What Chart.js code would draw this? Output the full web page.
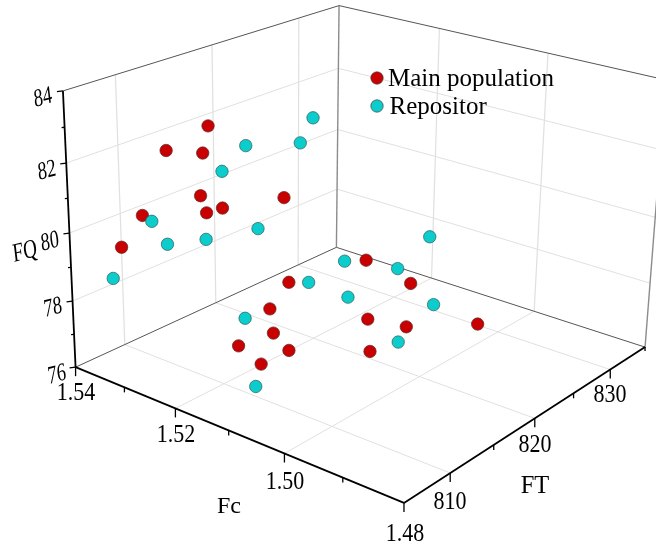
<!DOCTYPE html>
<html>
<head>
<meta charset="utf-8">
<title>Fc FT FQ</title>
<script src="https://cdn.jsdelivr.net/npm/chart.js@4"></script>
<style>
    html, body { margin: 0; background: #fff; }
    canvas { display: block; }
</style>
</head>
<body>
<canvas id="chart" width="656" height="552"></canvas>
<script>
// values (depth along the view direction is estimated)
const mainFc = [1.53, 1.53, 1.53, 1.53, 1.53, 1.53, 1.53, 1.53, 1.53, 1.5326, 1.5282, 1.5221, 1.5231, 1.5165, 1.5166, 1.5177, 1.5145, 1.5084, 1.5008, 1.5073, 1.5289];
const mainFT = [814.1, 809.8, 813.5, 813.2, 813.8, 815.5, 822.4, 807.3, 805.2, 824.5, 819.7, 816.6, 813.3, 815.1, 812.1, 830.6, 823.1, 823.9, 827.8, 818.8, 832.0];
const mainFQ = [82.58, 82.31, 81.86, 80.65, 80.08, 80.03, 79.58, 80.74, 80.08, 76.5, 76.5, 76.5, 76.5, 76.5, 76.5, 76.5, 76.5, 76.5, 76.5, 76.5, 76.5];

const repFc = [1.53, 1.53, 1.53, 1.53, 1.53, 1.53, 1.53, 1.53, 1.53, 1.5302, 1.5288, 1.5125, 1.5219, 1.5101, 1.5061, 1.5229, 1.5313, 1.5157];
const repFT = [825.8, 824.3, 818.1, 815.5, 819.4, 813.7, 809.7, 808.2, 804.3, 825.5, 817.2, 809.2, 825.3, 828.5, 821.4, 832.3, 830.7, 831.6];
const repFQ = [81.69, 81.07, 81.61, 81.12, 78.96, 79.30, 79.63, 80.47, 79.30, 76.5, 76.5, 76.5, 76.5, 76.5, 76.5, 76.5, 76.5, 78.0];

const fcRange = [1.54, 1.48];
const ftRange = [805, 835];
const fqRange = [76, 84];
const fcTicks = [1.54, 1.52, 1.50, 1.48];
const fcMinor = [1.53, 1.51, 1.49];
const ftTicks = [810, 820, 830];
const ftMinor = [815, 825];
const fqTicks = [76, 78, 80, 82, 84];
const fqMinor = [77, 79, 81, 83];

const SERIF = '"Liberation Serif", "Times New Roman", serif';
const RED = '#c80000';
const CYAN = '#0ccccc';

// cube corners as seen in the picture: [x, y, z, px, py]
const corners = [
    [0, 0, 0, 75.5, 367], [1, 0, 0, 404, 503], [1, 1, 0, 645, 347], [0, 1, 0, 336.5, 247.5],
    [0, 0, 1, 63, 91], [0, 1, 1, 339, 5.5], [1, 1, 1, 666, 80],
];

// least squares fit of the perspective camera to the corners
const fitCamera = () => {
    const A = [], b = [];
    corners.forEach(([x, y, z, u, v]) => {
        A.push([x, y, z, 1, 0, 0, 0, 0, -u * x, -u * y, -u * z]); b.push(u);
        A.push([0, 0, 0, 0, x, y, z, 1, -v * x, -v * y, -v * z]); b.push(v);
    });
    const n = 11, M = [];
    for (let i = 0; i < n; i++) {
        M.push(new Array(n + 1).fill(0));
        for (let r = 0; r < A.length; r++) {
            for (let j = 0; j < n; j++) M[i][j] += A[r][i] * A[r][j];
            M[i][n] += A[r][i] * b[r];
        }
    }
    for (let c = 0; c < n; c++) {
        let p = c;
        for (let r = c; r < n; r++) if (Math.abs(M[r][c]) > Math.abs(M[p][c])) p = r;
        [M[c], M[p]] = [M[p], M[c]];
        for (let r = 0; r < n; r++) {
            if (r === c) continue;
            const f = M[r][c] / M[c][c];
            for (let k = c; k <= n; k++) M[r][k] -= f * M[c][k];
        }
    }
    return M.map((row, i) => row[n] / row[i]);
};
const cam = fitCamera();

const project = (fc, ft, fq) => {
    const x = (fc - fcRange[0]) / (fcRange[1] - fcRange[0]);
    const y = (ft - ftRange[0]) / (ftRange[1] - ftRange[0]);
    const z = (fq - fqRange[0]) / (fqRange[1] - fqRange[0]);
    const w = cam[8] * x + cam[9] * y + cam[10] * z + 1;
    return {
        x: (cam[0] * x + cam[1] * y + cam[2] * z + cam[3]) / w,
        y: (cam[4] * x + cam[5] * y + cam[6] * z + cam[7]) / w,
    };
};

const toPoints = (fc, ft, fq) => fc.map((v, i) => project(v, ft[i], fq[i]));

const box3d = {
    id: 'box3d',
    beforeDatasetsDraw(chart) {
        const { ctx, scales } = chart;
        const px = p => [scales.x.getPixelForValue(p.x), scales.y.getPixelForValue(p.y)];
        const line = (a, b, color, width) => {
            const p = px(a), q = px(b);
            ctx.strokeStyle = color;
            ctx.lineWidth = width;
            ctx.beginPath();
            ctx.moveTo(p[0], p[1]);
            ctx.lineTo(q[0], q[1]);
            ctx.stroke();
        };
        const [fc0, fc1] = fcRange, [ft0, ft1] = ftRange, [fq0, fq1] = fqRange;
        const GRID = '#e0e0e0';
        ctx.save();
        // grid on floor and the two walls
        fcTicks.slice(1, 3).forEach(t => {
            line(project(t, ft0, fq0), project(t, ft1, fq0), GRID, 1);
            line(project(t, ft1, fq0), project(t, ft1, fq1), GRID, 1.2);
        });
        ftTicks.forEach(t => {
            line(project(fc0, t, fq0), project(fc1, t, fq0), GRID, 1);
            line(project(fc0, t, fq0), project(fc0, t, fq1), GRID, 1.2);
        });
        fqTicks.slice(1, 4).forEach(t => {
            line(project(fc0, ft0, t), project(fc0, ft1, t), GRID, 1);
            line(project(fc0, ft1, t), project(fc1, ft1, t), GRID, 1);
        });
        // back frame
        line(project(fc0, ft1, fq0), project(fc0, ft1, fq1), '#8c8c8c', 1.4);
        line(project(fc1, ft1, fq0), project(fc1, ft1, fq1), '#8c8c8c', 1.4);
        line(project(fc0, ft0, fq0), project(fc0, ft1, fq0), '#555', 1);
        line(project(fc0, ft1, fq0), project(fc1, ft1, fq0), '#555', 1);
        line(project(fc0, ft0, fq1), project(fc0, ft1, fq1), '#555', 1);
        line(project(fc0, ft1, fq1), project(fc1, ft1, fq1), '#555', 1);
        // main axes
        line(project(fc0, ft0, fq0), project(fc1, ft0, fq0), '#000', 1.8);
        line(project(fc1, ft0, fq0), project(fc1, ft1, fq0), '#000', 1.8);
        line(project(fc0, ft0, fq0), project(fc0, ft0, fq1), '#000', 1.8);
        // tick marks
        const down = (p, len) => line(p, { x: p.x, y: p.y + len }, '#000', 1.3);
        const left = (p, len) => line(p, { x: p.x - len, y: p.y + len * 0.12 }, '#000', 1.3);
        fcTicks.forEach(t => down(project(t, ft0, fq0), 9));
        fcMinor.forEach(t => down(project(t, ft0, fq0), 5));
        ftTicks.forEach(t => down(project(fc1, t, fq0), 9));
        ftMinor.forEach(t => down(project(fc1, t, fq0), 5));
        down(project(fc1, ft1, fq0), 4);
        fqTicks.forEach(t => left(project(fc0, ft0, t), 6));
        fqMinor.forEach(t => left(project(fc0, ft0, t), 3));
        ctx.restore();
    },
    afterDatasetsDraw(chart) {
        const { ctx } = chart;
        const text = (s, x, y, size) => {
            ctx.font = size + 'px ' + SERIF;
            ctx.fillText(s, x, y);
        };
        // tick labels on the floor axes are a bit taller than wide
        const tall = (s, x, y) => {
            ctx.save();
            ctx.translate(x, y);
            ctx.transform(1, 0, 0, 1.12, 0, 0);
            text(s, 0, 0, 22);
            ctx.restore();
        };
        // squeezed and sheared text, follows the wall of the FQ axis
        const slanted = (s, x, y, size) => {
            ctx.save();
            ctx.translate(x, y);
            ctx.transform(0.72, -0.19, 0.12, 1, 0, 0);
            text(s, 0, 0, size);
            ctx.restore();
        };
        ctx.save();
        ctx.fillStyle = '#000';
        ctx.textAlign = 'center';
        ctx.textBaseline = 'middle';

        const fcLabelPos = [[76, 394], [176, 436], [285, 483], [405, 535]];
        fcTicks.forEach((t, i) => tall(t.toFixed(2), fcLabelPos[i][0], fcLabelPos[i][1]));
        const ftLabelPos = [[450, 503], [535, 446], [610, 396]];
        ftTicks.forEach((t, i) => tall(String(t), ftLabelPos[i][0], ftLabelPos[i][1]));
        const fqLabelPos = [[57, 375], [53, 308], [50, 242], [47, 171], [43, 98]];
        fqTicks.forEach((t, i) => slanted(String(t), fqLabelPos[i][0], fqLabelPos[i][1], 25));

        text('Fc', 229, 507, 24);
        text('FT', 535, 487, 24.5);
        slanted('FQ', 25, 252, 26);

        // legend
        ctx.textAlign = 'left';
        [['Main population', RED, 78], ['Repositor', CYAN, 106]].forEach(([label, color, y]) => {
            ctx.beginPath();
            ctx.arc(377, y, 6.2, 0, Math.PI * 2);
            ctx.fillStyle = color;
            ctx.fill();
            ctx.lineWidth = 0.7;
            ctx.strokeStyle = '#444';
            ctx.stroke();
            ctx.fillStyle = '#000';
            text(label, label === 'Repositor' ? 389.5 : 388, y + 1, 25);
        });
        ctx.restore();
    },
};

new Chart(document.getElementById('chart'), {
    type: 'scatter',
    data: {
        datasets: [
            {
                label: 'Main population',
                data: toPoints(mainFc, mainFT, mainFQ),
                backgroundColor: RED,
                borderColor: '#5c2a2a',
                borderWidth: 0.7,
                pointRadius: 6.2,
                order: 2,
            },
            {
                label: 'Repositor',
                data: toPoints(repFc, repFT, repFQ),
                backgroundColor: CYAN,
                borderColor: '#2a5c5c',
                borderWidth: 0.7,
                pointRadius: 6.2,
                order: 1,
            },
        ],
    },
    options: {
        responsive: false,
        animation: false,
        layout: { padding: 0, autoPadding: false },
        plugins: { legend: { display: false }, tooltip: { enabled: false } },
        scales: {
            x: { type: 'linear', display: false, min: 0, max: 656 },
            y: { type: 'linear', display: false, min: 0, max: 552, reverse: true },
        },
    },
    plugins: [box3d],
});
</script>
</body>
</html>
